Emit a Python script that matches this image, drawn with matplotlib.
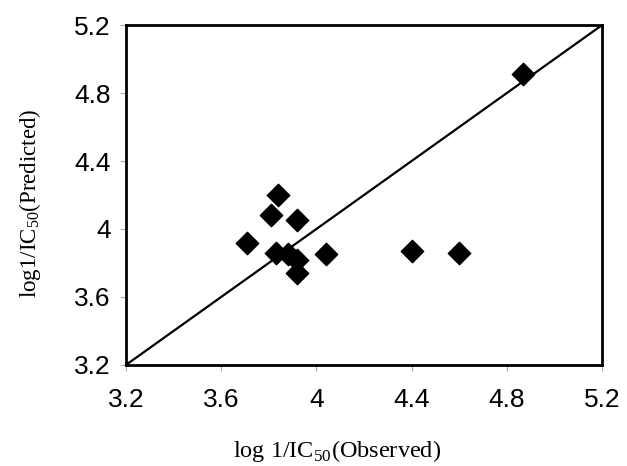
import numpy as np
from matplotlib import pyplot as plt

# observed vs predicted log 1/IC50
observed = [3.84, 3.81, 3.92, 3.71, 3.83, 3.88, 3.92, 3.92, 4.04, 4.40, 4.60, 4.87]
predicted = [4.20, 4.08, 4.05, 3.92, 3.86, 3.85, 3.82, 3.74, 3.85, 3.87, 3.86, 4.91]
ticks = [3.2, 3.6, 4.0, 4.4, 4.8, 5.2]
tick_labels = ["3.2", "3.6", "4", "4.4", "4.8", "5.2"]
lims = [3.2, 5.2]

plt.rcParams["mathtext.fontset"] = "custom"
plt.rcParams["mathtext.rm"] = "Liberation Serif"

fig = plt.figure(figsize=(6.27, 4.66), dpi=100)
ax = fig.add_axes([0.201, 0.217, 0.759, 0.729])

ax.plot(lims, lims, color="black", lw=1.6, zorder=2)
ax.scatter(observed, predicted, marker="D", s=130, color="black", zorder=3)

ax.set_xlim(lims)
ax.set_ylim(lims)
ax.set_xticks(ticks)
ax.set_yticks(ticks)
ax.set_xticklabels(tick_labels, family="Liberation Sans", fontsize=19)
ax.set_yticklabels(tick_labels, family="Liberation Sans", fontsize=19)
ax.tick_params(axis="x", direction="out", length=4, width=0.8, color="#aaaaaa", pad=13)
ax.tick_params(axis="y", direction="out", length=4, width=0.8, color="#aaaaaa", pad=7)
for sp in ax.spines.values():
    sp.set_linewidth(2)

fig.text(0.538, 0.032, r"log 1/IC$_{\mathrm{50}}$(Observed)", family="Liberation Serif",
         fontsize=17.5, ha="center", va="center")
fig.text(0.048, 0.564, r"log1/IC$_{\mathrm{50}}$(Predicted)", family="Liberation Serif",
         fontsize=16.5, ha="center", va="center", rotation=90)

fig.savefig("out.png", dpi=100)
